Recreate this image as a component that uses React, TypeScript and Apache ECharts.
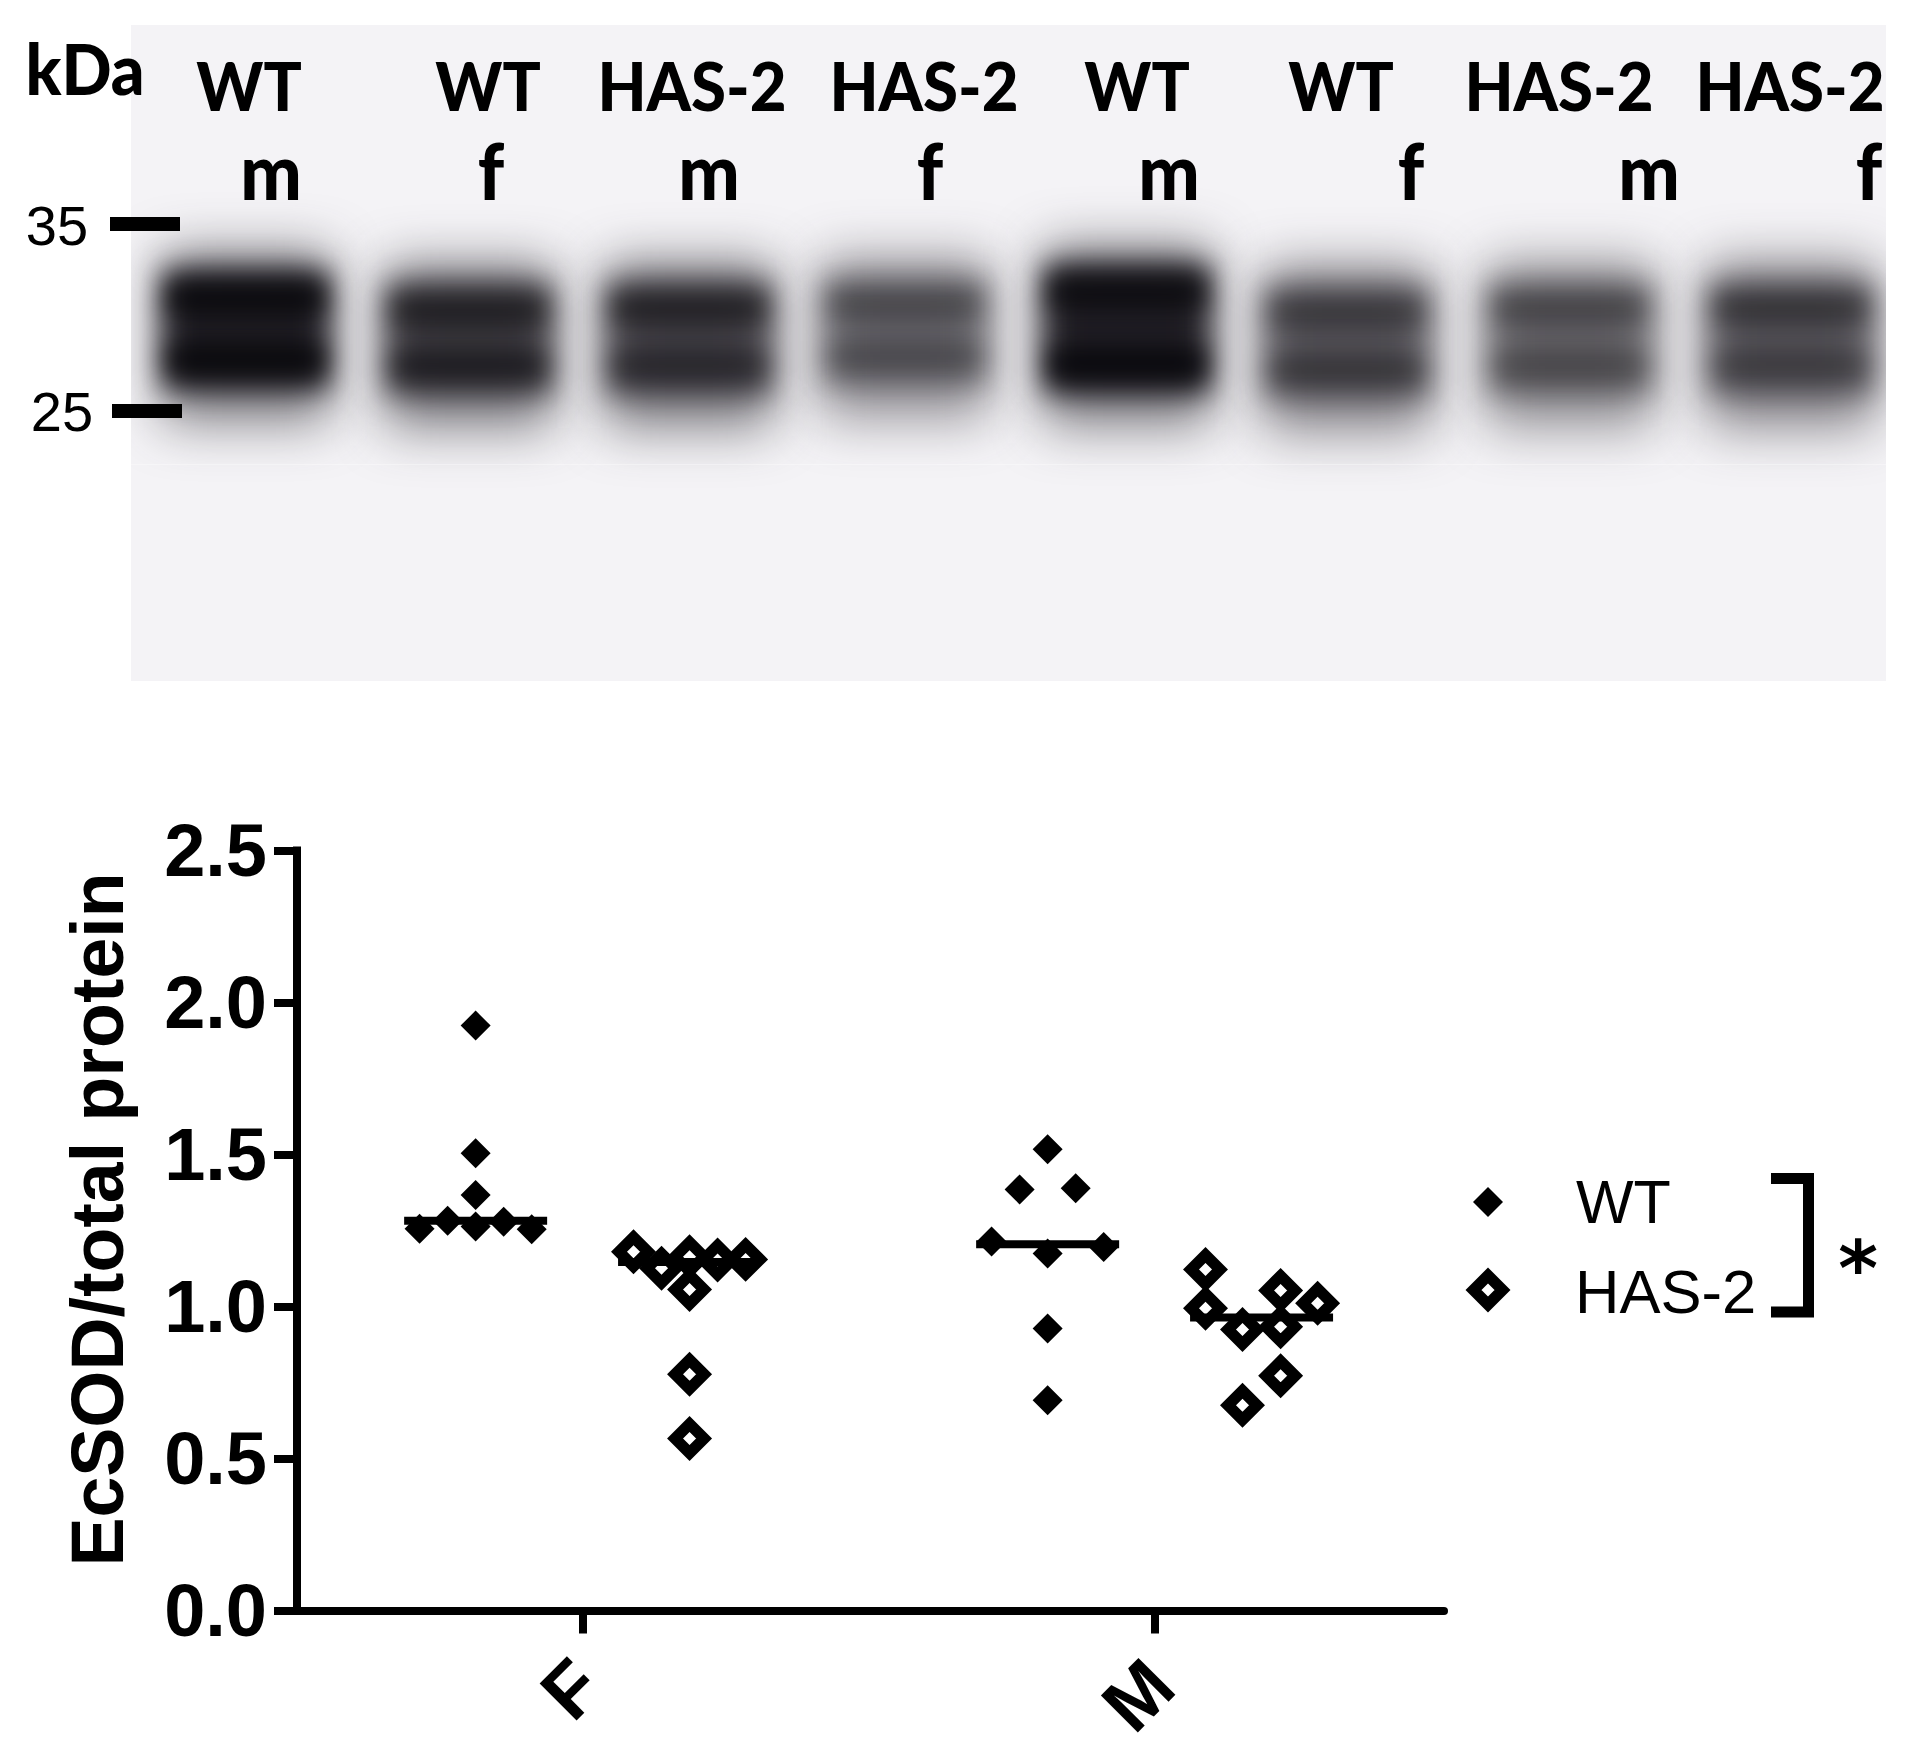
import React, { useEffect, useRef } from "react";
import * as echarts from "echarts";

// ---- data ----
const categories = ["F", "M"];
const yTicksMax = 2.5;
const seriesNames = ["WT", "HAS-2"];

const fWtSlots = [0, 0, 0, -1, 1, 0, -2, 2];
const fWtValues = [1.924, 1.504, 1.367, 1.282, 1.279, 1.263, 1.256, 1.254];
const fHasSlots = [-2, -1, 0, 1, 2, 0, 0, 0];
const fHasValues = [1.18, 1.126, 1.164, 1.153, 1.155, 1.056, 0.777, 0.566];
const mWtSlots = [0, -1, 1, -2, 2, 0, 0, 0];
const mWtValues = [1.517, 1.385, 1.389, 1.214, 1.196, 1.174, 0.928, 0.692];
const mHasSlots = [-2, -2, 0.68, 2, -0.68, 0.68, 0.68, -0.68];
const mHasValues = [1.122, 0.994, 1.053, 1.011, 0.924, 0.933, 0.772, 0.675];
const medianWt = [1.282, 1.205];
const medianHas = [1.146, 0.964];

// Blot annotations
const laneTopLabels = ["WT", "WT", "HAS-2", "HAS-2", "WT", "WT", "HAS-2", "HAS-2"];
const laneTopX = [249, 488, 692, 924, 1137, 1341, 1559, 1790];
const laneSubLabels = ["m", "f", "m", "f", "m", "f", "m", "f"];
const laneSubX = [271, 491, 709, 930, 1169, 1411, 1649, 1869];
const ladderLabels = ["35", "25"];

// Lane optical density: centre, upper-band y, lower-band y, upper darkness, lower darkness
const laneCentres = [246, 469, 689, 905, 1127, 1347, 1570, 1791];
const laneUpperY = [298, 310, 308, 304, 292, 312, 308, 308];
const laneLowerY = [360, 366, 366, 357, 364, 370, 366, 366];
const laneUpperDark = [1.25, 0.85, 0.88, 0.54, 1.15, 0.6, 0.56, 0.7];
const laneLowerDark = [1.3, 0.92, 0.72, 0.48, 1.35, 0.64, 0.5, 0.54];

const GROUP_OFFSET = 0.187;
const SLOT = 0.049;
const MEDIAN_HALF = 0.125;

function points(cat: number, sign: number, slots: number[], values: number[]) {
  return values.map((v, i) => [cat + sign * GROUP_OFFSET + slots[i] * SLOT, v]);
}

function makeBlot(W: number, H: number, ox: number, oy: number): string {
  const c = document.createElement("canvas");
  c.width = W;
  c.height = H;
  const g = c.getContext("2d") as CanvasRenderingContext2D;
  g.fillStyle = "#f4f3f6";
  g.fillRect(0, 0, W, H);
  g.translate(-ox, -oy);
  const hw = 86;
  laneCentres.forEach((cx, i) => {
    const u = laneUpperY[i];
    const l = laneLowerY[i];
    const du = laneUpperDark[i];
    const dl = laneLowerDark[i];
    const d = (du + dl) / 2;
    g.filter = "blur(26px)";
    g.fillStyle = `rgba(35,32,40,${0.55 * Math.min(1, d + 0.3)})`;
    g.fillRect(cx - hw + 2, u - 46, 2 * hw - 4, l - u + 108);
    g.filter = "blur(15px)";
    g.fillStyle = `rgba(20,18,24,${Math.min(0.9, 0.72 * d)})`;
    g.fillRect(cx - hw + 3, u - 28, 2 * hw - 6, l - u + 58);
    g.filter = "blur(12px)";
    g.fillStyle = `rgba(5,5,8,${Math.min(0.95, 0.62 * du)})`;
    g.fillRect(cx - hw + 8, u - 16, 2 * hw - 16, 32);
    g.fillStyle = `rgba(5,5,8,${Math.min(0.95, 0.62 * dl)})`;
    g.fillRect(cx - hw + 8, l - 16, 2 * hw - 16, 32);
  });
  g.filter = "none";
  g.fillStyle = "rgba(255,255,255,0.35)";
  g.fillRect(ox, 464, W, 1);
  return c.toDataURL("image/png");
}

const BOLD = "Lato";
const ARIAL = "Liberation Sans";

export default function App() {
  const ref = useRef<HTMLDivElement>(null);
  useEffect(() => {
    if (!ref.current) return;
    const chart = echarts.init(ref.current, undefined, { renderer: "svg" });
    const laneText = (text: string, x: number, y: number, size: number, scaleY = 1.06) => ({
      type: "text",
      z: 3,
      x,
      y,
      scaleY,
      style: {
        text,
        x: 0,
        y: 0,
        fill: "#000",
        font: `900 ${size}px ${BOLD}`,
        textAlign: "center",
        textVerticalAlign: "middle",
      },
    });
    const plainText = (text: string, x: number, y: number, size: number, align = "left") => ({
      type: "text",
      z: 3,
      style: {
        text,
        x,
        y,
        fill: "#000",
        font: `${size}px ${ARIAL}`,
        textAlign: align,
        textVerticalAlign: "middle",
      },
    });
    const graphics: any[] = [
      {
        type: "image",
        z: 1,
        style: { image: makeBlot(1755, 656, 131, 25), x: 131, y: 25, width: 1755, height: 656 },
      },
      laneText("kDa", 85, 68, 66),
      ...laneTopLabels.map((t, i) => laneText(t, laneTopX[i], 85, 63.5)),
      ...laneSubLabels.map((t, i) => laneText(t, laneSubX[i], 170, 73)),
      plainText(ladderLabels[0], 57, 225, 56, "center"),
      plainText(ladderLabels[1], 62, 411, 56, "center"),
      { type: "rect", z: 3, shape: { x: 110, y: 217, width: 70, height: 14 }, style: { fill: "#000" } },
      { type: "rect", z: 3, shape: { x: 112, y: 404, width: 70, height: 14 }, style: { fill: "#000" } },
      // legend
      { type: "polygon", z: 3, shape: { points: [[1488, 1187], [1503, 1202], [1488, 1217], [1473, 1202]] }, style: { fill: "#000" } },
      { type: "polygon", z: 3, shape: { points: [[1488, 1275.5], [1502.5, 1290], [1488, 1304.5], [1473.5, 1290]] }, style: { fill: "none", stroke: "#000", lineWidth: 11.3, lineJoin: "miter" } },
      plainText(seriesNames[0], 1576, 1202, 61),
      plainText(seriesNames[1], 1575, 1291, 61.5),
      // significance bracket
      { type: "polyline", z: 3, shape: { points: [[1771, 1178.5], [1808.5, 1178.5], [1808.5, 1312], [1771, 1312]] }, style: { fill: "none", stroke: "#000", lineWidth: 11, lineJoin: "miter" } },
      { type: "text", z: 3, style: { text: "*", x: 1858, y: 1268, fill: "#000", font: `bold 76px 'DejaVu Sans'`, textAlign: "center", textVerticalAlign: "middle" } },
    ];
    const axisMin = 1 - 285.6 / 572;
    const axisMax = axisMin + 1147 / 572;
    const medianLine = (cat: number, sign: number, v: number) => ({
      type: "line",
      silent: true,
      symbol: "none",
      z: 2,
      lineStyle: { color: "#000", width: 8, cap: "butt" },
      data: [
        [cat + sign * GROUP_OFFSET - MEDIAN_HALF, v],
        [cat + sign * GROUP_OFFSET + MEDIAN_HALF, v],
      ],
    });
    const wtStyle = { type: "scatter", symbol: "diamond", symbolSize: 30, z: 3, itemStyle: { color: "#000", opacity: 1 } };
    const hasStyle = {
      type: "scatter",
      symbol: "diamond",
      symbolSize: 29,
      z: 3,
      itemStyle: { color: "rgba(0,0,0,0)", borderColor: "#000", borderWidth: 11.3, opacity: 1 },
    };
    chart.setOption({
      animation: false,
      backgroundColor: "#fff",
      graphic: graphics,
      grid: { left: 297, top: 850.5, width: 1147, height: 760, containLabel: false },
      xAxis: {
        type: "value",
        min: axisMin,
        max: axisMax,
        splitLine: { show: false },
        axisLine: { lineStyle: { color: "#000", width: 8 } },
        axisTick: { length: 23, lineStyle: { color: "#000", width: 8 }, customValues: [1, 2] },
        axisLabel: {
          customValues: [1.008, 2.01],
          formatter: (v: number) => categories[Math.round(v) - 1],
          rotate: 45,
          margin: 62,
          color: "#000",
          fontFamily: ARIAL,
          fontWeight: "bold",
          fontSize: 76,
        },
      },
      yAxis: {
        type: "value",
        min: 0,
        max: yTicksMax,
        interval: 0.5,
        name: "EcSOD/total protein",
        nameLocation: "middle",
        nameGap: 163,
        nameRotate: 90,
        nameTextStyle: { color: "#000", fontFamily: ARIAL, fontWeight: "bold", fontSize: 73.5, padding: [0, 0, 0, 22] },
        splitLine: { show: false },
        axisLine: { onZero: false, lineStyle: { color: "#000", width: 8, cap: "square" } },
        axisTick: { length: 23, lineStyle: { color: "#000", width: 8 } },
        axisLabel: {
          margin: 30,
          color: "#000",
          fontFamily: ARIAL,
          fontWeight: "bold",
          fontSize: 74,
          formatter: (v: number) => v.toFixed(1),
        },
      },
      series: [
        medianLine(1, -1, medianWt[0]),
        medianLine(1, 1, medianHas[0]),
        medianLine(2, -1, medianWt[1]),
        medianLine(2, 1, medianHas[1]),
        { ...wtStyle, name: seriesNames[0], data: points(1, -1, fWtSlots, fWtValues) },
        { ...wtStyle, name: seriesNames[0], data: points(2, -1, mWtSlots, mWtValues) },
        { ...hasStyle, name: seriesNames[1], data: points(1, 1, fHasSlots, fHasValues) },
        { ...hasStyle, name: seriesNames[1], data: points(2, 1, mHasSlots, mHasValues) },
      ],
    });
    return () => chart.dispose();
  }, []);
  return <div ref={ref} style={{ position: "absolute", left: 0, top: 0, width: 1908, height: 1756 }} />;
}
